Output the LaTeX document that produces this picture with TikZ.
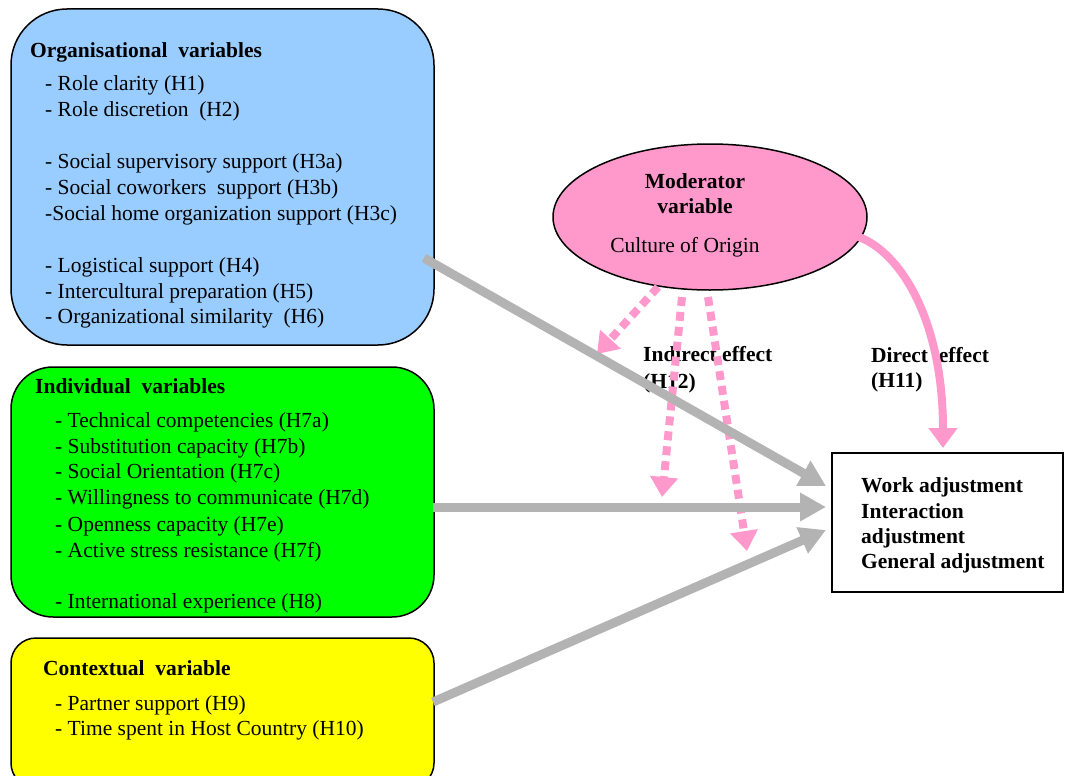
\documentclass[tikz,border=0pt]{standalone}
\usepackage{fontspec}
\setmainfont{Liberation Serif}
\usetikzlibrary{arrows.meta,shapes.geometric}
\definecolor{boxblue}{HTML}{99CCFF}
\definecolor{boxgreen}{HTML}{00FF00}
\definecolor{boxyellow}{HTML}{FFFF00}
\definecolor{modpink}{HTML}{FF99CC}
\definecolor{arrgray}{HTML}{B3B3B3}
\begin{document}
\begin{tikzpicture}[x=1pt,y=-1pt,
  varbox/.style={draw=black, line width=1.5pt, inner sep=0pt},
  txt/.style={font=\fontsize{21.5}{26}\selectfont, inner sep=0pt, anchor=base west},
  hd/.style={font=\fontsize{21.5}{26}\selectfont\bfseries, inner sep=0pt, anchor=base west},
  grayarrow/.style={draw=arrgray, line width=9pt, -{Triangle[length=26pt,width=27pt]}},
  pinkdash/.style={draw=modpink, line width=8pt, dash pattern=on 9pt off 6pt, -{Triangle[length=20pt,width=27pt]}},
  pinkcurve/.style={draw=modpink, line width=8pt, -{Triangle[length=20pt,width=28pt]}}
]
\useasboundingbox (0,0) rectangle (1065,776);
\clip (0,0) rectangle (1065,776);

% boxes
\node[varbox, fill=boxblue, rounded corners=56pt, minimum width=423pt, minimum height=336pt] (org) at (222.5,177) {};
\node[varbox, fill=boxgreen, rounded corners=42pt, minimum width=423pt, minimum height=250pt] (ind) at (222.5,492) {};
\node[varbox, fill=boxyellow, rounded corners=25pt, minimum width=423pt, minimum height=150pt] (ctx) at (222.5,713) {};
\node[ellipse, draw=black, line width=1.5pt, fill=modpink, minimum width=314pt, minimum height=146pt, inner sep=0pt] (mod) at (710,217) {};
\node[draw=black, line width=1.5pt, fill=white, minimum width=231pt, minimum height=139pt, inner sep=0pt] (out) at (947.5,522.5) {};

% organisational text
\node[hd] (orgh) at (30,58) {Organisational\ \ variables};
\foreach \yy/\lbl [count=\i] in {90/{- Role clarity (H1)}, 116/{- Role discretion\ \ (H2)}, 168/{- Social supervisory support (H3a)}, 194/{- Social coworkers\ \ support (H3b)}, 220/{-Social home organization support (H3c)}, 272/{- Logistical support (H4)}, 298/{- Intercultural preparation (H5)}, 323/{- Organizational similarity\ \ (H6)}}
  \node[txt] (org\i) at (45,\yy) {\lbl};

% individual text
\node[hd] (indh) at (35,393) {Individual\ \ variables};
\foreach \yy/\lbl [count=\i] in {427/{- Technical competencies (H7a)}, 453/{- Substitution capacity (H7b)}, 478/{- Social Orientation (H7c)}, 504/{- Willingness to communicate (H7d)}, 531/{- Openness capacity (H7e)}, 557/{- Active stress resistance (H7f)}, 608/{- International experience (H8)}}
  \node[txt] (ind\i) at (55,\yy) {\lbl};

% contextual text
\node[hd] (ctxh) at (43,675) {Contextual\ \ variable};
\node[txt] (ctx1) at (55,710) {- Partner support (H9)};
\node[txt] (ctx2) at (55,735) {- Time spent in Host Country (H10)};

% moderator text
\node[hd, anchor=base] (modh1) at (695,188) {Moderator};
\node[hd, anchor=base] (modh2) at (695,213) {variable};
\node[txt, anchor=base] (modt) at (685,252) {Culture of Origin};

% output text
\node[hd] (out1) at (861,492) {Work adjustment};
\node[hd] (out2) at (861,518) {Interaction};
\node[hd] (out3) at (861,543) {adjustment};
\node[hd] (out4) at (861,568) {General adjustment};

% effect labels
\node[hd] (ind1l) at (643,361) {Indirect effect};
\node[hd] (ind2l) at (643,388) {(H12)};
\node[hd] (dir1l) at (871,362) {Direct\ \ effect};
\node[hd] (dir2l) at (871,387) {(H11)};

% connector end points
\coordinate (orgout) at (424,258);
\coordinate (indout) at (433,507);
\coordinate (ctxout) at (433,702);
\coordinate (in1) at (826,486);
\coordinate (in2) at (826,507);
\coordinate (in3) at (826,530);
\coordinate (moda) at (658,287);
\coordinate (modb) at (682,297);
\coordinate (modc) at (708,297);
\coordinate (moddir) at (856,236);
\coordinate (tipa) at (597,354);
\coordinate (tipb) at (662,497);
\coordinate (tipc) at (747,551);
\coordinate (outtop) at (943,448);

% pink dotted arrows
\draw[pinkdash] (moda) -- (tipa);
\draw[pinkdash] (modb) -- (tipb);
\draw[pinkdash] (modc) -- (tipc);

% gray arrows
\draw[grayarrow] (orgout) -- (in1);
\draw[grayarrow] (indout) -- (in2);
\draw[grayarrow] (ctxout) -- (in3);

% direct effect
\draw[pinkcurve] (moddir) .. controls (900,250) and (943,320) .. (outtop);
\end{tikzpicture}
\end{document}
